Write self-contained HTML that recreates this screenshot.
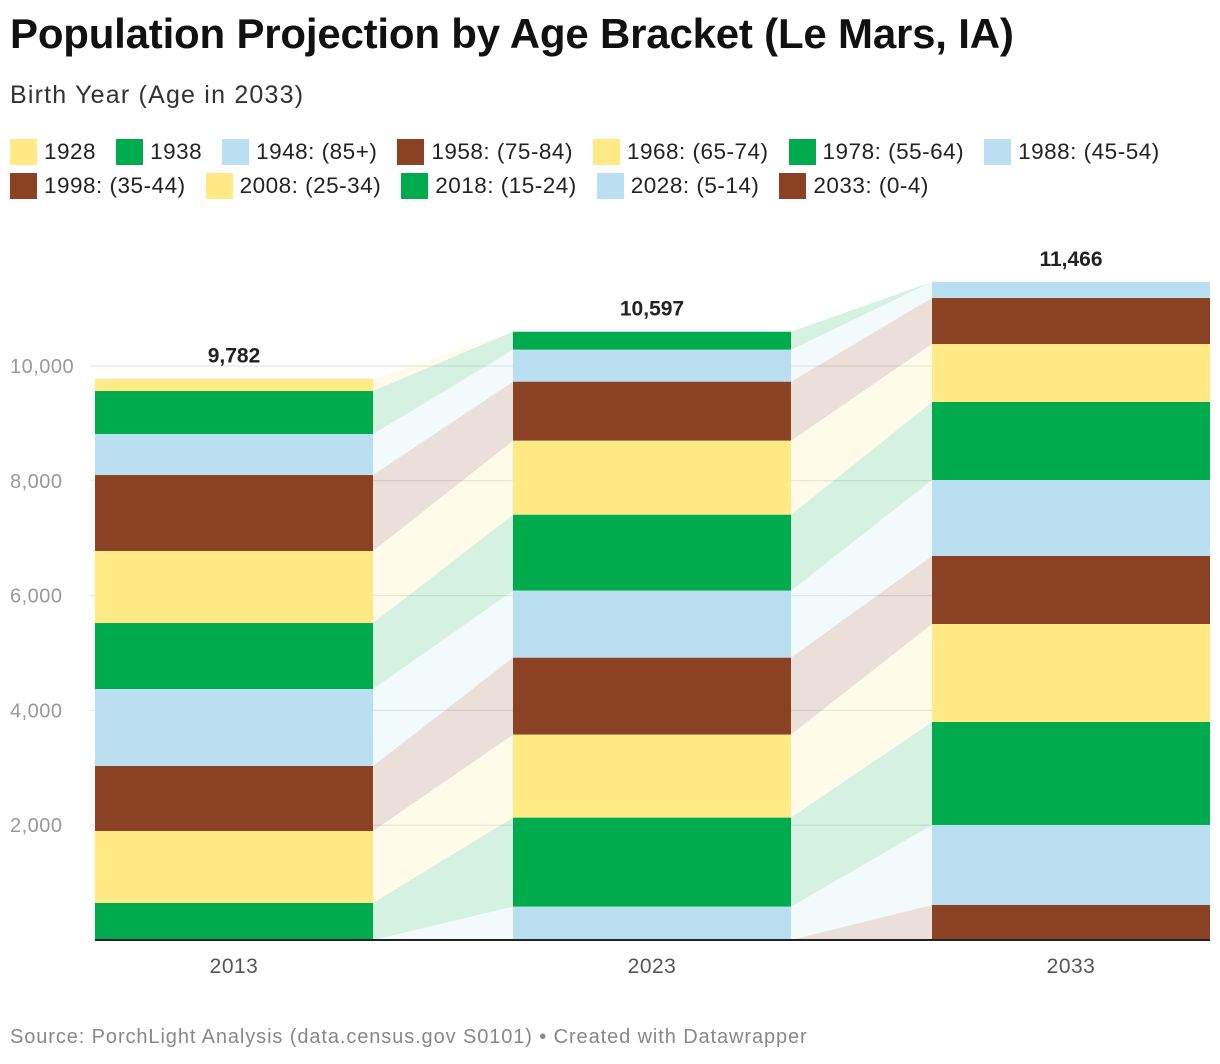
<!DOCTYPE html>
<html><head><meta charset="utf-8"><style>
body{margin:0;width:1220px;height:1064px;background:#fff;font-family:"Liberation Sans",sans-serif;overflow:hidden;position:relative}
h1{position:absolute;left:10px;top:10px;margin:0;font-size:42px;font-weight:bold;color:#111;letter-spacing:-0.2px}
.sub{position:absolute;left:10px;top:81px;font-size:25px;color:#333;letter-spacing:1.2px}
.leg{position:absolute;left:10px;top:138px;width:1210px;font-size:22.5px;color:#222;letter-spacing:0.5px}
.li{display:inline-block;margin-right:20px;height:34px;line-height:28px;white-space:nowrap}
.sw{display:inline-block;width:27px;height:26px;vertical-align:-6px;margin-right:7px}
.src{position:absolute;left:10px;top:1026px;font-size:20px;color:#888;letter-spacing:0.9px}
</style></head><body>
<h1>Population Projection by Age Bracket (Le Mars, IA)</h1>
<div class="sub">Birth Year (Age in 2033)</div>
<div class="leg" id="leg"></div>
<svg id="ch" width="1220" height="1064" style="position:absolute;left:0;top:0"></svg>
<div class="src">Source: PorchLight Analysis (data.census.gov S0101) • Created with Datawrapper</div>
<script>
const seriesNames=["1928","1938","1948: (85+)","1958: (75-84)","1968: (65-74)","1978: (55-64)","1988: (45-54)","1998: (35-44)","2008: (25-34)","2018: (15-24)","2028: (5-14)","2033: (0-4)"];
const years=["2013","2023","2033"];
const totals=[9782,10597,11466];
const v2013=[210,750,714,1324,1254,1150,1341,1132,1254,645,0,0];
const v2023=[0,314,557,1028,1289,1324,1167,1341,1446,1551,580,0];
const v2033=[0,0,282,801,1010,1359,1324,1185,1707,1794,1394,610];
const yTicks=[2000,4000,6000,8000,10000];
const palette=["#ffea86","#00ab4e","#b9dff0","#8b4123"];
const vals=[v2013,v2023,v2033];
const NS="http://www.w3.org/2000/svg";
const svg=document.getElementById('ch');
const y=v=>940-v*0.0574;
const barX=[95,513,932],barW=278;
function mk(t,a){const e=document.createElementNS(NS,t);for(const k in a)e.setAttribute(k,a[k]);svg.appendChild(e);return e;}
const leg=document.getElementById('leg');
seriesNames.forEach((n,i)=>{const d=document.createElement('span');d.className='li';


d.innerHTML='<span class="sw" style="background:'+palette[i%4]+'"></span>'+n;leg.appendChild(d);
if(i==6)leg.appendChild(document.createElement('br'));});
yTicks.forEach(t=>{const l=mk('line',{x1:90,x2:1210,y1:y(t),y2:y(t),stroke:'#e2e2e2','stroke-width':1});


const tx=mk('text',{x:10,y:y(t)+7,'font-size':20,fill:'#999','letter-spacing':0.5});tx.textContent=t.toLocaleString('en-US');

});
const cum=vals.map(arr=>{const b=[];let s=0;for(let i=arr.length-1;i>=0;i--){b[i]=[s,s+arr[i]];s+=arr[i];}return b;});
for(let k=0;k<2;k++){for(let i=0;i<seriesNames.length;i++){
const a=cum[k][i],b=cum[k+1][i];if(vals[k][i]==0&&vals[k+1][i]==0)continue;
const x1=barX[k]+barW,x2=barX[k+1];
const p=mk('polygon',{points:`${x1},${y(a[0])} ${x2},${y(b[0])} ${x2},${y(b[1])} ${x1},${y(a[1])}`,fill:palette[i%4],'fill-opacity':0.17});

}}
for(let k=0;k<3;k++){for(let i=0;i<seriesNames.length;i++){if(!vals[k][i])continue;
const c=cum[k][i];const r=mk('rect',{x:barX[k],y:y(c[1]),width:barW,height:y(c[0])-y(c[1]),fill:palette[i%4]});

}
const t=mk('text',{x:barX[k]+barW/2,y:y(totals[k])-16,'font-size':21,'font-weight':'bold','text-anchor':'middle',fill:'#222'});t.textContent=totals[k].toLocaleString('en-US');


const xl=mk('text',{x:barX[k]+barW/2,y:973,'font-size':21,'text-anchor':'middle',fill:'#555','letter-spacing':0.5});xl.textContent=years[k];

}
const base=mk('line',{x1:95,x2:1210,y1:940,y2:940,stroke:'#222','stroke-width':2});


</script>
</body></html>
